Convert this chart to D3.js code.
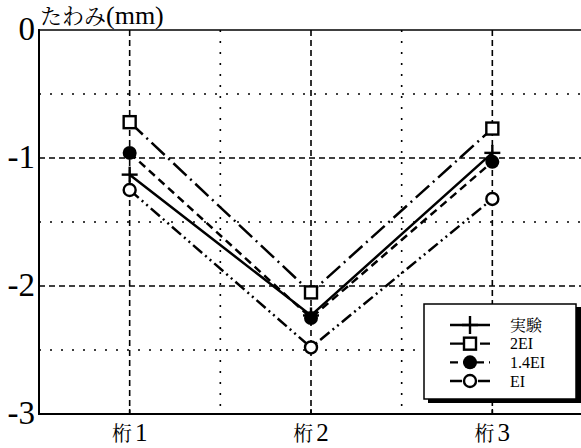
<!DOCTYPE html>
<html>
<head>
<meta charset="utf-8">
<script src="https://cdn.jsdelivr.net/npm/d3@7/dist/d3.min.js"></script>
<style>
  html, body { margin: 0; padding: 0; background: #fff; }
  svg { display: block; }
  text { fill: #000; }
</style>
</head>
<body>
<svg id="chart" width="581" height="448"></svg>
<script>
// Girder deflection data (mm)
const categories = ["桁1", "桁2", "桁3"];
const seriesNames = ["実験", "2EI", "1.4EI", "EI"];
const experiment = [-1.13, -2.23, -0.96];
const ei2 = [-0.72, -2.05, -0.77];
const ei14 = [-0.96, -2.25, -1.03];
const ei1 = [-1.25, -2.48, -1.32];
const yTicks = [0, -1, -2, -3];
const yLabelKana = "たわみ";
const yLabelUnit = "(mm)";

const series = [
  { name: seriesNames[0], values: experiment, dash: null, marker: "plus" },
  { name: seriesNames[1], values: ei2, dash: "18,5,2,5", marker: "square" },
  { name: seriesNames[2], values: ei14, dash: "8,5", marker: "dot" },
  { name: seriesNames[3], values: ei1, dash: "12,4,2,4,2,4", marker: "circle" }
];

const svg = d3.select("#chart");
const plotL = 39, plotR = 583, plotT = 30, plotB = 414;
const serif = "'Liberation Serif', 'Noto Serif CJK JP', 'Noto Sans CJK JP', serif";

const x = d3.scaleBand().domain(categories).range([plotL, plotR]).padding(0);
const y = d3.scaleLinear().domain([-3, 0]).range([plotB, plotT]);
const cx = c => x(c) + x.bandwidth() / 2;

// grid: dashed at integers / category centres, dotted at halves / band edges
const g = svg.append("g");
[-1, -2].forEach(v => g.append("line")
  .attr("x1", plotL).attr("x2", plotR).attr("y1", y(v)).attr("y2", y(v))
  .attr("stroke", "#000").attr("stroke-width", 1.6).attr("stroke-dasharray", "6,4"));
[-0.5, -1.5, -2.5].forEach(v => g.append("line")
  .attr("x1", plotL).attr("x2", plotR).attr("y1", y(v)).attr("y2", y(v))
  .attr("stroke", "#000").attr("stroke-width", 1.6).attr("stroke-dasharray", "2,9"));
categories.forEach(c => g.append("line")
  .attr("x1", cx(c)).attr("x2", cx(c)).attr("y1", plotT).attr("y2", plotB)
  .attr("stroke", "#000").attr("stroke-width", 1.6).attr("stroke-dasharray", "6,4"));
categories.slice(1).forEach(c => g.append("line")
  .attr("x1", x(c)).attr("x2", x(c)).attr("y1", plotT).attr("y2", plotB)
  .attr("stroke", "#000").attr("stroke-width", 1.6).attr("stroke-dasharray", "2,9"));

// frame
svg.append("line").attr("x1", plotL).attr("x2", plotR).attr("y1", plotT).attr("y2", plotT)
  .attr("stroke", "#000").attr("stroke-width", 1.5);
svg.append("line").attr("x1", plotL).attr("x2", plotR).attr("y1", plotB).attr("y2", plotB)
  .attr("stroke", "#000").attr("stroke-width", 2);
svg.append("line").attr("x1", plotL).attr("x2", plotL).attr("y1", plotT - 1).attr("y2", plotB + 1)
  .attr("stroke", "#000").attr("stroke-width", 2);

// y axis labels
const yAxis = svg.append("g").attr("transform", `translate(${plotL},0)`)
  .call(d3.axisLeft(y).tickValues(yTicks).tickSize(0).tickPadding(4).tickFormat(d => String(d)));
yAxis.select(".domain").remove();
yAxis.selectAll("text").attr("font-family", serif).attr("font-size", 33).attr("dy", "0.3em");

// x axis labels: kanji smaller, numeral larger
const xAxis = svg.append("g").attr("transform", `translate(0,${plotB})`)
  .call(d3.axisBottom(x).tickSize(-5).tickPadding(10));
xAxis.select(".domain").remove();
xAxis.selectAll("line").attr("stroke-width", 1.5);
xAxis.selectAll("text").each(function(d) {
  const t = d3.select(this).text("").attr("font-family", serif).attr("y", 27).attr("dy", null);
  t.append("tspan").attr("font-size", 20).text(d.slice(0, 1));
  t.append("tspan").attr("font-size", 25).attr("dx", 3).text(d.slice(1));
});

const title = svg.append("text").attr("x", 40).attr("y", 24).attr("font-family", serif);
title.append("tspan").attr("font-size", 22).text(yLabelKana);
title.append("tspan").attr("font-size", 26).text(yLabelUnit);

// marker drawing
function drawMarker(sel, type, px, py, big) {
  const h = big ? 9 : 8;
  if (type === "plus") {
    sel.append("line").attr("x1", px - 8).attr("x2", px + 8).attr("y1", py).attr("y2", py)
      .attr("stroke", "#000").attr("stroke-width", 2.4);
    sel.append("line").attr("x1", px).attr("x2", px).attr("y1", py - h).attr("y2", py + h)
      .attr("stroke", "#000").attr("stroke-width", 2.4);
  } else if (type === "square") {
    sel.append("rect").attr("x", px - 6).attr("y", py - 6).attr("width", 12).attr("height", 12)
      .attr("fill", "#fff").attr("stroke", "#000").attr("stroke-width", 2.4);
  } else if (type === "dot") {
    sel.append("circle").attr("cx", px).attr("cy", py).attr("r", 7).attr("fill", "#000");
  } else {
    sel.append("circle").attr("cx", px).attr("cy", py).attr("r", 6)
      .attr("fill", "#fff").attr("stroke", "#000").attr("stroke-width", 2.4);
  }
}

const line = d3.line().x((d, i) => cx(categories[i])).y(d => y(d));
series.forEach(s => {
  svg.append("path").datum(s.values).attr("d", line)
    .attr("fill", "none").attr("stroke", "#000").attr("stroke-width", 2.5)
    .attr("stroke-dasharray", s.dash);
});
series.forEach(s => {
  const mg = svg.append("g");
  s.values.forEach((v, i) => drawMarker(mg, s.marker, cx(categories[i]), y(v), false));
});

// legend with drop shadow
const lg = svg.append("g");
lg.append("rect").attr("x", 428).attr("y", 307).attr("width", 153).attr("height", 96).attr("fill", "#000");
lg.append("rect").attr("x", 424).attr("y", 304).attr("width", 152).attr("height", 95)
  .attr("fill", "#fff").attr("stroke", "#000").attr("stroke-width", 1.5);
const rowY = d3.scalePoint().domain(seriesNames).range([325, 381]);
series.forEach(s => {
  const ry = rowY(s.name);
  lg.append("line").attr("x1", 450).attr("x2", 490).attr("y1", ry).attr("y2", ry)
    .attr("stroke", "#000").attr("stroke-width", 2.4).attr("stroke-dasharray", s.dash);
  drawMarker(lg, s.marker, 470, ry, true);
  lg.append("text").attr("x", 510).attr("y", ry).attr("dy", "0.35em")
    .attr("font-family", serif).attr("font-size", 16).text(s.name);
});
</script>
</body>
</html>
